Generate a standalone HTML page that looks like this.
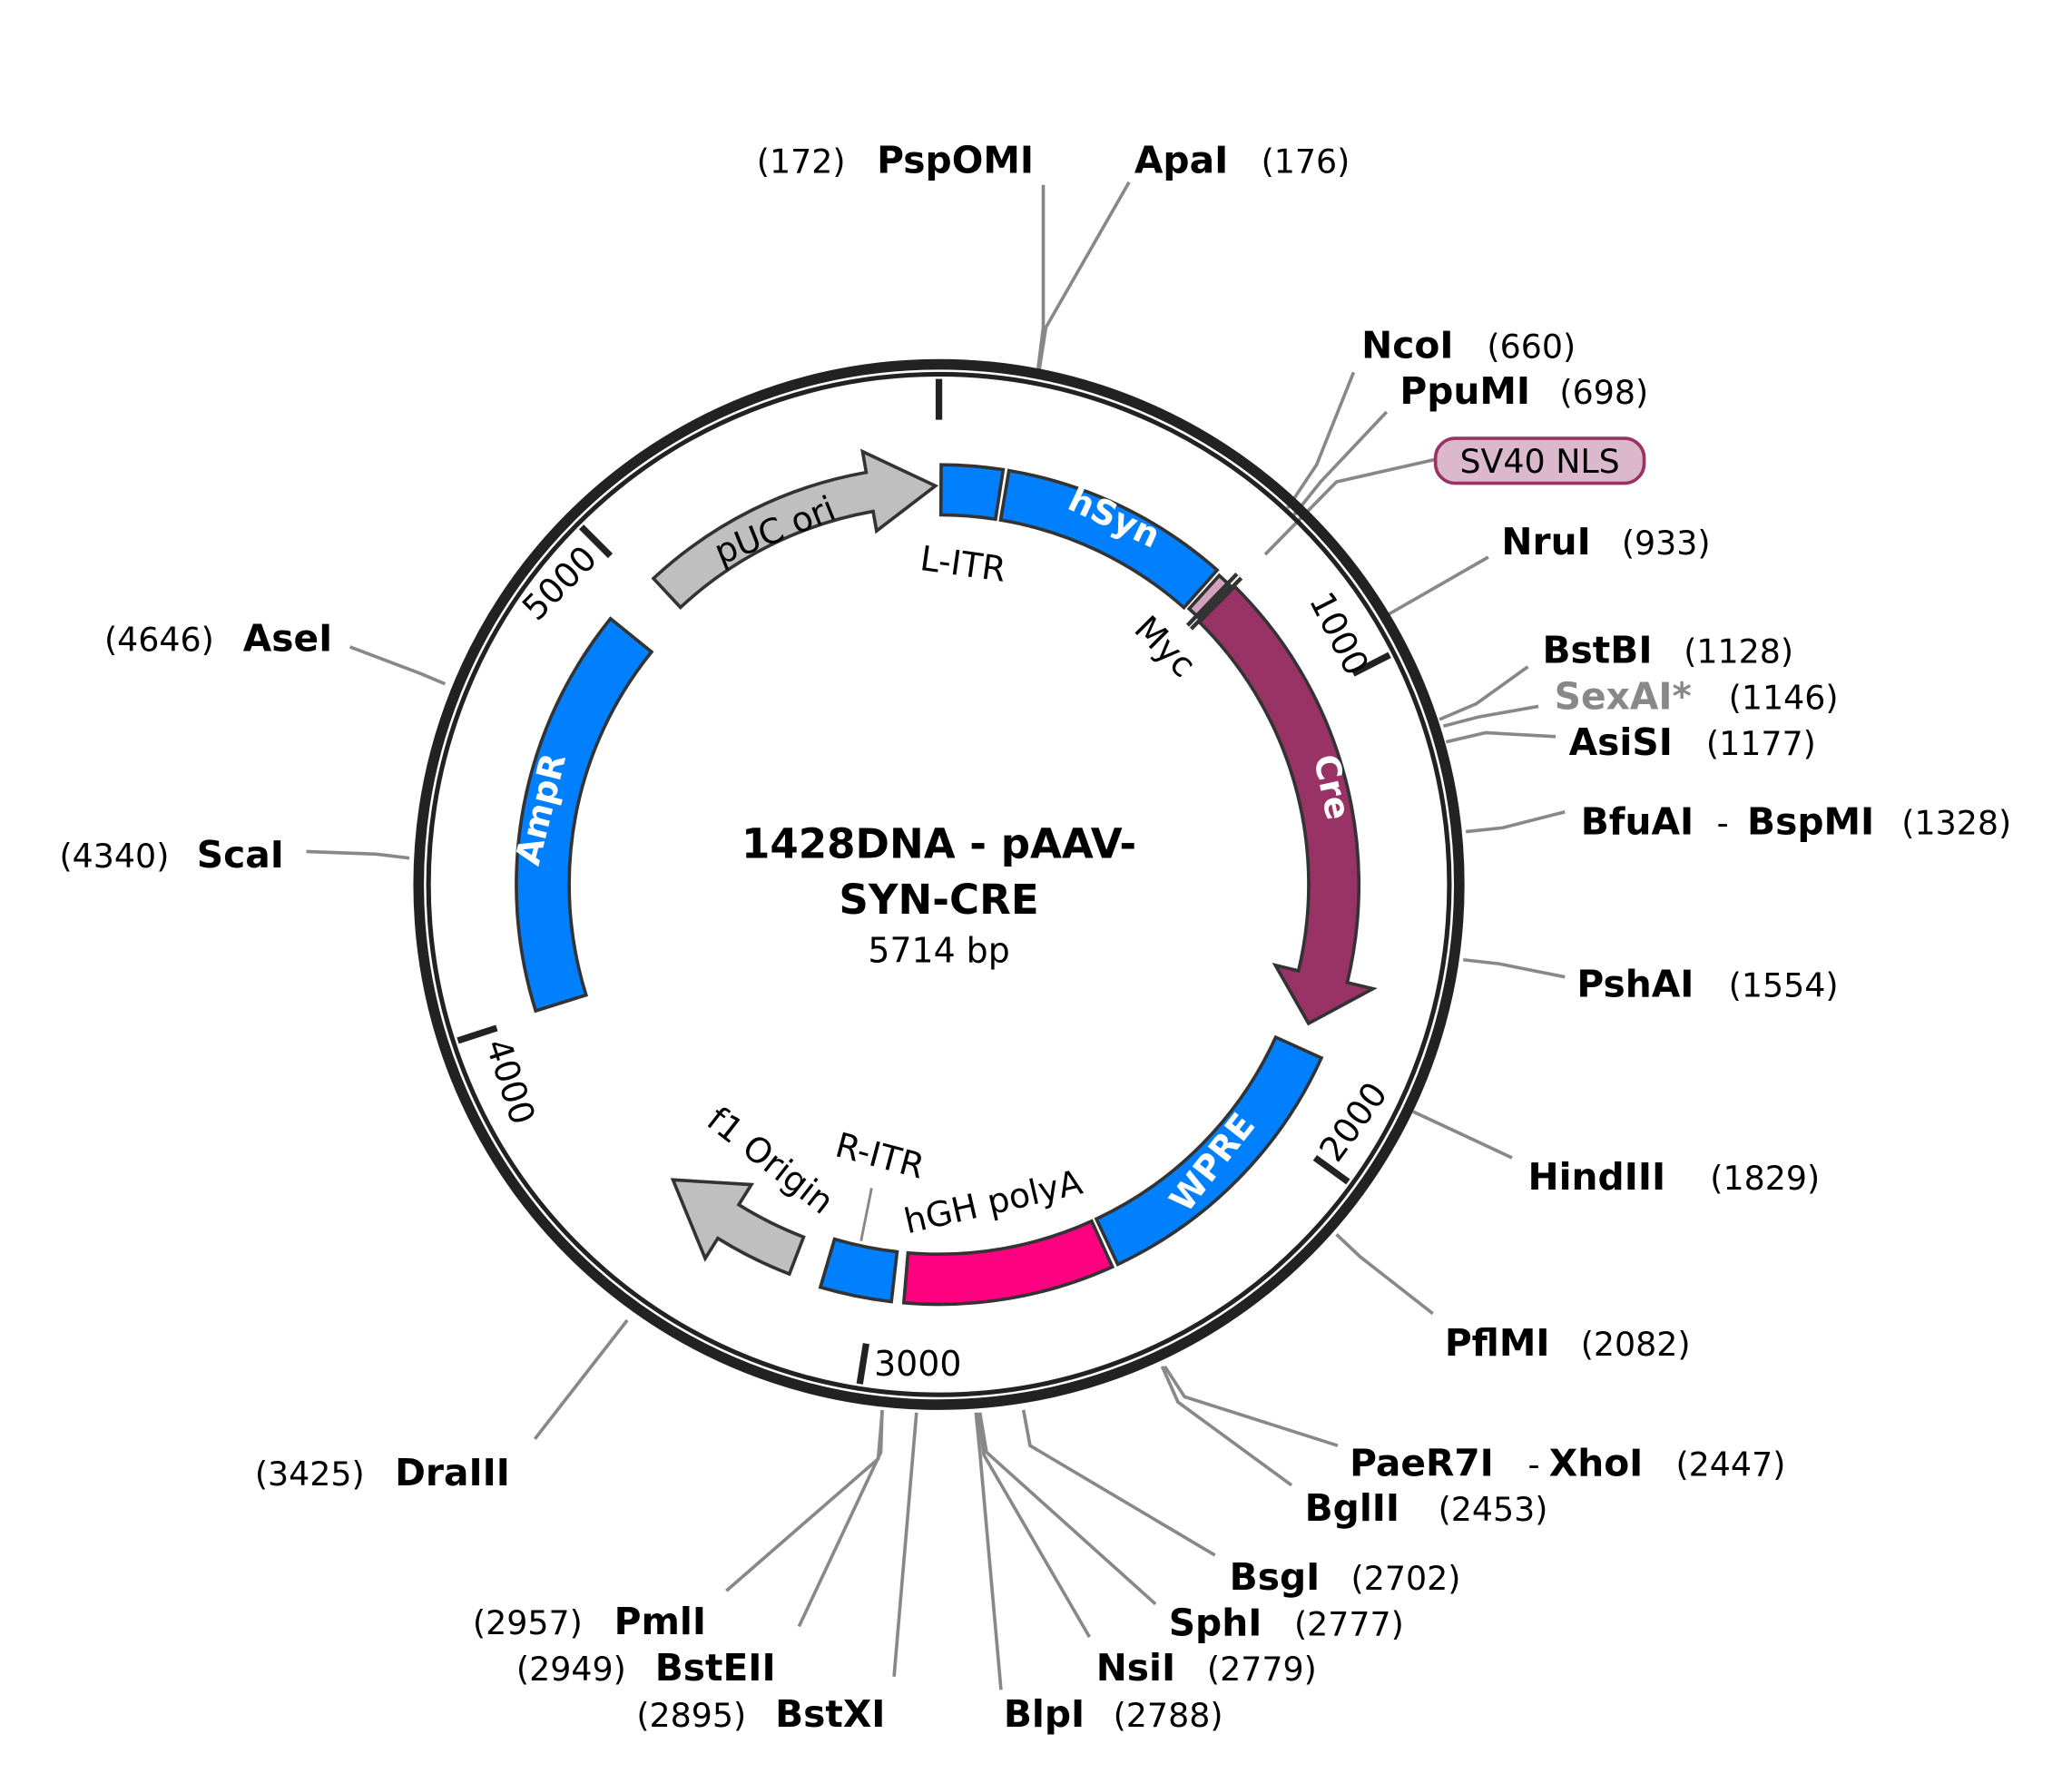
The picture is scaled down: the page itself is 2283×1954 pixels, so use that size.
<!DOCTYPE html>
<html><head><meta charset="utf-8"><style>
html,body{margin:0;padding:0;background:#fff;}
svg{display:block;}
text{font-family:"DejaVu Sans","Liberation Sans",sans-serif;}
.n{font-weight:bold;font-size:28px;fill:#000;}
.p{font-size:25px;fill:#000;}
.l{fill:none;stroke:#888;stroke-width:2.5;}
.f{font-size:26px;fill:#000;}
.w{font-size:26px;fill:#fff;font-weight:bold;}
</style></head><body>
<svg id="s" width="2283" height="1954" viewBox="0 0 1569 1343" preserveAspectRatio="none" xmlns="http://www.w3.org/2000/svg">
<rect width="1569" height="1343" fill="#fff"/>
<g id="lines">
<polyline class="l" points="790,140 790,248 786,280"/>
<polyline class="l" points="855,138 792,248 787,280"/>
<polyline class="l" points="1025,282 997,352 975,385"/>
<polyline class="l" points="1050,312 1000,365 980,390"/>
<polyline class="l" points="1087,348 1012,365 958,420"/>
<polyline class="l" points="1127,422 1052,465"/>
<polyline class="l" points="1157,505 1118,533 1090,545"/>
<polyline class="l" points="1165,535 1120,543 1093,550"/>
<polyline class="l" points="1178,558 1125,555 1095,562"/>
<polyline class="l" points="1185,615 1138,627 1110,630"/>
<polyline class="l" points="1185,740 1135,730 1108,727"/>
<polyline class="l" points="1145,877 1070,842"/>
<polyline class="l" points="1085,995 1030,952 1012,935"/>
<polyline class="l" points="1013,1095 897,1058 882,1035"/>
<polyline class="l" points="978,1125 892,1062 880,1035"/>
<polyline class="l" points="920,1178 780,1095 775,1068"/>
<polyline class="l" points="875,1215 747,1100 742,1070"/>
<polyline class="l" points="825,1240 745,1102 741,1070"/>
<polyline class="l" points="758,1280 742,1100 739,1070"/>
<polyline class="l" points="677,1270 694,1070"/>
<polyline class="l" points="605,1232 667,1100 668,1068"/>
<polyline class="l" points="550,1205 665,1105 668,1070"/>
<polyline class="l" points="405,1090 475,1000"/>
<polyline class="l" points="265,490 318,510 337,518"/>
<polyline class="l" points="232,645 285,647 310,650"/>
</g>
<circle cx="711" cy="670" r="394" fill="none" stroke="#222" stroke-width="8"/>
<circle cx="711" cy="670" r="386.5" fill="none" stroke="#222" stroke-width="3.5"/>
<g id="dyn"></g>
<text class="p" x="573" y="131">(172)</text><text class="n" x="664" y="131">PspOMI</text>
<text class="n" x="859" y="131">ApaI</text><text class="p" x="955" y="131">(176)</text>
<text class="n" x="1031" y="271">NcoI</text><text class="p" x="1126" y="271">(660)</text>
<text class="n" x="1060" y="306">PpuMI</text><text class="p" x="1181" y="306">(698)</text>
<rect x="1087" y="332" width="158" height="34" rx="15" fill="#dbb8cb" stroke="#993366" stroke-width="2.5"/>
<text x="1166" y="358" text-anchor="middle" style="font-size:25px;fill:#000">SV40 NLS</text>
<text class="n" x="1137" y="420">NruI</text><text class="p" x="1228" y="420">(933)</text>
<text class="n" x="1168" y="502">BstBI</text><text class="p" x="1275" y="502">(1128)</text>
<text class="n" x="1177" y="537" style="fill:#888">SexAI*</text><text class="p" x="1309" y="537">(1146)</text>
<text class="n" x="1188" y="572">AsiSI</text><text class="p" x="1292" y="572">(1177)</text>
<text class="n" x="1197" y="632">BfuAI</text><text class="p" x="1300" y="632">-</text><text class="n" x="1323" y="632">BspMI</text><text class="p" x="1440" y="632">(1328)</text>
<text class="n" x="1194" y="755">PshAI</text><text class="p" x="1309" y="755">(1554)</text>
<text class="n" x="1157" y="901">HindIII</text><text class="p" x="1295" y="901">(1829)</text>
<text class="n" x="1094" y="1027">PflMI</text><text class="p" x="1197" y="1027">(2082)</text>
<text class="n" x="1022" y="1118">PaeR7I</text><text class="p" x="1157" y="1118">-</text><text class="n" x="1173" y="1118">XhoI</text><text class="p" x="1269" y="1118">(2447)</text>
<text class="n" x="988" y="1152">BglII</text><text class="p" x="1089" y="1152">(2453)</text>
<text class="n" x="931" y="1204">BsgI</text><text class="p" x="1023" y="1204">(2702)</text>
<text class="n" x="885" y="1239">SphI</text><text class="p" x="980" y="1239">(2777)</text>
<text class="n" x="830" y="1273">NsiI</text><text class="p" x="914" y="1273">(2779)</text>
<text class="n" x="760" y="1308">BlpI</text><text class="p" x="843" y="1308">(2788)</text>
<text class="p" x="482" y="1308">(2895)</text><text class="n" x="587" y="1308">BstXI</text>
<text class="p" x="391" y="1273">(2949)</text><text class="n" x="496" y="1273">BstEII</text>
<text class="p" x="358" y="1238">(2957)</text><text class="n" x="465" y="1238">PmlI</text>
<text class="p" x="193" y="1125">(3425)</text><text class="n" x="299" y="1125">DraIII</text>
<text class="p" x="79" y="493">(4646)</text><text class="n" x="184" y="493">AseI</text>
<text class="p" x="45" y="657">(4340)</text><text class="n" x="149" y="657">ScaI</text>
<text x="711" y="650" text-anchor="middle" style="font-size:31px;font-weight:bold">1428DNA - pAAV-</text>
<text x="711" y="692" text-anchor="middle" style="font-size:31px;font-weight:bold">SYN-CRE</text>
<text x="711" y="729" text-anchor="middle" style="font-size:26px">5714 bp</text>
<text class="w" transform="translate(840,400) rotate(25)" text-anchor="middle">hSyn</text>
<text class="w" transform="translate(1000,598) rotate(78)" text-anchor="middle">Cre</text>
<text class="w" transform="translate(925,886) rotate(-52)" text-anchor="middle">WPRE</text>
<text class="w" transform="translate(418,615) rotate(-76)" text-anchor="middle">AmpR</text>
<text class="f" transform="translate(590,410) rotate(-22)" text-anchor="middle">pUC ori</text>
<text class="f" transform="translate(728,436) rotate(8)" text-anchor="middle">L-ITR</text>
<text class="f" transform="translate(876,496) rotate(45)" text-anchor="middle">Myc</text>
<text class="f" transform="translate(754,919) rotate(-13)" text-anchor="middle">hGH polyA</text>
<text class="f" transform="translate(664,884) rotate(15)" text-anchor="middle">R-ITR</text>
<text class="f" transform="translate(578,886) rotate(38)" text-anchor="middle">f1 Origin</text>
<line x1="660" y1="900" x2="652" y2="940" stroke="#888" stroke-width="2"/>
<text class="f" transform="translate(1006,484) rotate(63)" text-anchor="middle">1000</text>
<text class="f" transform="translate(1032,855) rotate(-54)" text-anchor="middle">2000</text>
<text class="f" x="695" y="1042" text-anchor="middle">3000</text>
<text class="f" transform="translate(378,822) rotate(72)" text-anchor="middle">4000</text>
<text class="f" transform="translate(430,448) rotate(-45)" text-anchor="middle">5000</text>
</svg>
<script>
(function(){
var cx=711,cy=670,NS="http://www.w3.org/2000/svg",g=document.getElementById("dyn");
function pt(r,a){a=a*Math.PI/180;return (cx+r*Math.sin(a)).toFixed(2)+","+(cy-r*Math.cos(a)).toFixed(2);}
function arc(r,a1,a2){var lg=Math.abs(a2-a1)>180?1:0,sw=a2>a1?1:0;return "A"+r+","+r+" 0 "+lg+" "+sw+" "+pt(r,a2);}
function add(d,fill,sw){var p=document.createElementNS(NS,"path");p.setAttribute("d",d);p.setAttribute("fill",fill);p.setAttribute("stroke","#333");p.setAttribute("stroke-width",sw||2.5);g.appendChild(p);}
function band(r1,r2,a1,a2,fill){add("M"+pt(r2,a1)+arc(r2,a1,a2)+"L"+pt(r1,a2)+arc(r1,a2,a1)+"Z",fill);}
function arrow(r1,r2,a1,ah,at,h1,h2,fill){var rm=(r1+r2)/2;
 add("M"+pt(r2,a1)+arc(r2,a1,ah)+"L"+pt(h2,ah)+"L"+pt(rm,at)+"L"+pt(h1,ah)+"L"+pt(r1,ah)+arc(r1,ah,a1)+"Z",fill);}
function ln(r1,r2,a,w,c){var l=document.createElementNS(NS,"line");var p1=pt(r1,a).split(","),p2=pt(r2,a).split(",");
 l.setAttribute("x1",p1[0]);l.setAttribute("y1",p1[1]);l.setAttribute("x2",p2[0]);l.setAttribute("y2",p2[1]);
 l.setAttribute("stroke",c);l.setAttribute("stroke-width",w);g.appendChild(l);}
[0,1000,2000,3000,4000,5000].forEach(function(b){ln(383,352,b/5714*360,5,"#222");});
var B="#0080ff";
band(280,318,0.3,8.8,B);
band(280,318,9.6,41.5,B);
band(282,316,42.2,44.3,"#d4a0bc");
arrow(280,318,44.8,103.5,110.6,262,338,"#993366");
ln(272,326,43.8,3,"#333");ln(272,326,44.6,3,"#333");
band(280,318,114.4,154.8,B);
band(280,318,155.6,184.8,"#ff0080");
band(280,318,186.5,196.4,B);
arrow(286,316,201,212,222,268,334,"#bfbfbf");
band(280,320,252.6,309,B);
arrow(287,317,317,350,359.5,272,333,"#bfbfbf");
})();
</script>
</body></html>
